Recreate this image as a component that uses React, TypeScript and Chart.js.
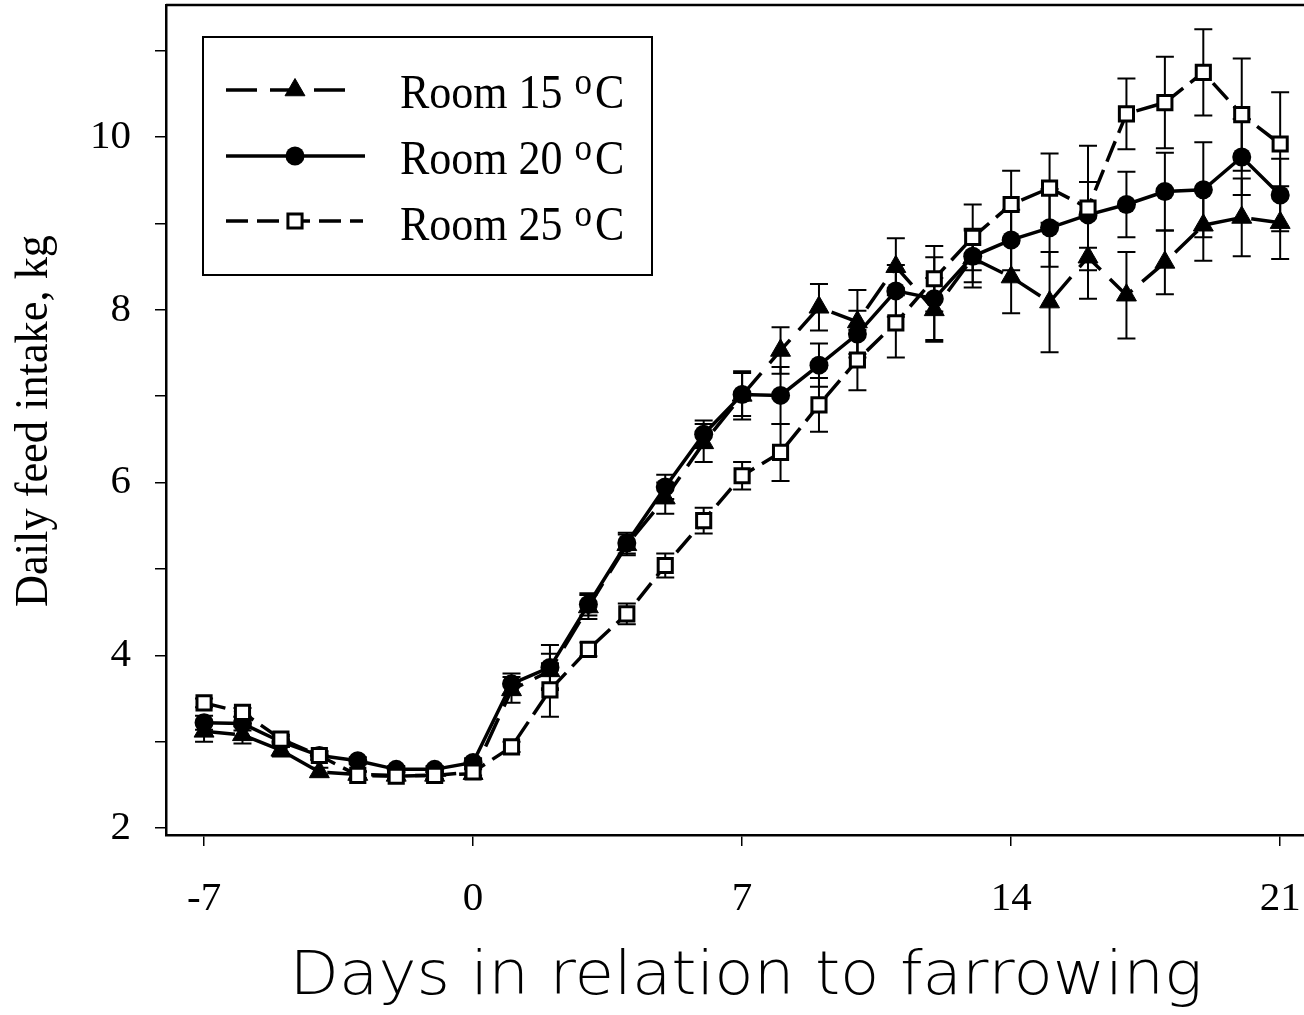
import React, { useEffect, useRef } from 'react';
import { Chart, registerables } from 'chart.js';

Chart.register(...registerables);

const days = [-7, -6, -5, -4, -3, -2, -1, 0, 1, 2, 3, 4, 5, 6, 7, 8, 9, 10, 11, 12, 13, 14, 15, 16, 17, 18, 19, 20, 21];

const room15Mean = [3.12, 3.08, 2.90, 2.65, 2.62, 2.61, 2.61, 2.63, 3.60, 3.82, 4.56, 5.28, 5.82, 6.46, 7.01, 7.53, 8.03, 7.86, 8.50, 8.00, 8.60, 8.38, 8.09, 8.61, 8.17, 8.55, 8.98, 9.07, 9.01];
const room15SE = [0.12, 0.10, 0.07, 0.05, 0.04, 0.04, 0.04, 0.05, 0.15, 0.20, 0.14, 0.12, 0.18, 0.22, 0.28, 0.27, 0.27, 0.37, 0.33, 0.37, 0.34, 0.42, 0.58, 0.48, 0.50, 0.37, 0.41, 0.45, 0.42];

const room20Mean = [3.22, 3.21, 3.00, 2.84, 2.78, 2.68, 2.68, 2.76, 3.67, 3.86, 4.59, 5.30, 5.95, 6.56, 7.02, 7.01, 7.36, 7.72, 8.22, 8.13, 8.62, 8.81, 8.95, 9.10, 9.22, 9.37, 9.39, 9.77, 9.33];
const room20SE = [0.08, 0.08, 0.06, 0.05, 0.04, 0.04, 0.04, 0.05, 0.12, 0.26, 0.13, 0.12, 0.14, 0.16, 0.25, 0.33, 0.25, 0.27, 0.30, 0.48, 0.30, 0.35, 0.45, 0.38, 0.38, 0.45, 0.55, 0.44, 0.42];

const room25Mean = [3.45, 3.34, 3.03, 2.84, 2.61, 2.60, 2.61, 2.65, 2.94, 3.60, 4.07, 4.48, 5.04, 5.56, 6.08, 6.35, 6.90, 7.42, 7.85, 8.36, 8.84, 9.22, 9.41, 9.18, 10.27, 10.40, 10.75, 10.26, 9.92];
const room25SE = [0.05, 0.05, 0.05, 0.05, 0.04, 0.04, 0.04, 0.04, 0.06, 0.31, 0.08, 0.12, 0.14, 0.15, 0.16, 0.33, 0.31, 0.35, 0.40, 0.38, 0.38, 0.39, 0.40, 0.72, 0.41, 0.53, 0.50, 0.65, 0.60];

const seriesLabels = ['Room 15', 'Room 20', 'Room 25'];
const xTickValues = [-7, 0, 7, 14, 21];
const yTickValues = [2, 3, 4, 5, 6, 7, 8, 9, 10, 11];
const xTitle = 'Days in relation to farrowing';
const yTitle = 'Daily feed intake, kg';

const SERIF = '"Liberation Serif", "Times New Roman", serif';

const dash15 = [31, 13];
const dash25 = [22, 9];

function drawMarker(ctx: CanvasRenderingContext2D, style: string, x: number, y: number) {
  ctx.save();
  ctx.setLineDash([]);
  ctx.strokeStyle = '#000';
  if (style === 'triangle') {
    const r = 11.5;
    ctx.beginPath();
    ctx.moveTo(x, y - r);
    ctx.lineTo(x + r * Math.sin((2 * Math.PI) / 3), y + r / 2);
    ctx.lineTo(x - r * Math.sin((2 * Math.PI) / 3), y + r / 2);
    ctx.closePath();
    ctx.fillStyle = '#000';
    ctx.fill();
    ctx.lineWidth = 1;
    ctx.stroke();
  } else if (style === 'circle') {
    ctx.beginPath();
    ctx.arc(x, y, 9.5, 0, Math.PI * 2);
    ctx.fillStyle = '#000';
    ctx.fill();
  } else {
    const s = 10 * Math.SQRT1_2;
    ctx.beginPath();
    ctx.rect(x - s, y - s, 2 * s, 2 * s);
    ctx.fillStyle = '#fff';
    ctx.fill();
    ctx.lineWidth = 3;
    ctx.stroke();
  }
  ctx.restore();
}

const errorBarPlugin = {
  id: 'errorBars',
  beforeDatasetsDraw(chart: any) {
    const ctx: CanvasRenderingContext2D = chart.ctx;
    const yScale = chart.scales.y;
    ctx.save();
    ctx.strokeStyle = '#000';
    ctx.lineWidth = 2;
    ctx.setLineDash([]);
    chart.data.datasets.forEach((ds: any, i: number) => {
      const meta = chart.getDatasetMeta(i);
      meta.data.forEach((pt: any, j: number) => {
        const v = ds.data[j].y;
        const se = ds.se[j];
        const x = pt.x;
        const yTop = yScale.getPixelForValue(v + se);
        const yBot = yScale.getPixelForValue(v - se);
        ctx.beginPath();
        ctx.moveTo(x, yTop);
        ctx.lineTo(x, yBot);
        ctx.moveTo(x - 9, yTop);
        ctx.lineTo(x + 9, yTop);
        ctx.moveTo(x - 9, yBot);
        ctx.lineTo(x + 9, yBot);
        ctx.stroke();
      });
    });
    ctx.restore();
  },
};

const framePlugin = {
  id: 'frameAndText',
  afterDraw(chart: any) {
    const ctx: CanvasRenderingContext2D = chart.ctx;
    const area = chart.chartArea;
    ctx.save();
    // top border
    ctx.strokeStyle = '#000';
    ctx.lineWidth = 2.5;
    ctx.beginPath();
    ctx.moveTo(area.left, area.top);
    ctx.lineTo(area.right, area.top);
    ctx.stroke();

    // legend box
    ctx.lineWidth = 2;
    ctx.strokeRect(203, 37, 449, 238);
    const rows = [90, 156, 221];
    const styles = ['triangle', 'circle', 'rect'];
    const dashes = [dash15, [], dash25];
    const ends = [352, 365, 363];
    const baselines = [108, 174, 240];
    rows.forEach((ry, i) => {
      ctx.save();
      ctx.lineWidth = 3.5;
      ctx.setLineDash(dashes[i]);
      ctx.beginPath();
      ctx.moveTo(226, ry);
      ctx.lineTo(ends[i], ry);
      ctx.stroke();
      ctx.restore();
      drawMarker(ctx, styles[i], 295, ry);
      ctx.fillStyle = '#000';
      ctx.textAlign = 'left';
      ctx.textBaseline = 'alphabetic';
      ctx.save();
      ctx.translate(400, baselines[i]);
      ctx.scale(1, 1.1);
      ctx.font = `44px ${SERIF}`;
      const main = seriesLabels[i] + ' ';
      ctx.fillText(main, 0, 0);
      let x = ctx.measureText(main).width + 1;
      ctx.font = `35px ${SERIF}`;
      ctx.fillText('o', x, -13);
      x += ctx.measureText('o').width + 3;
      ctx.font = `44px ${SERIF}`;
      ctx.fillText('C', x, 0);
      ctx.restore();
    });

    // x title
    ctx.fillStyle = '#000';
    ctx.textAlign = 'center';
    ctx.textBaseline = 'alphabetic';
    ctx.font = '200 60px "DejaVu Sans", sans-serif';
    const wx = ctx.measureText(xTitle).width;
    ctx.save();
    ctx.translate(746, 994);
    ctx.scale(913 / wx, 1);
    ctx.fillText(xTitle, 0, 0);
    ctx.restore();

    // y title
    ctx.font = `46px ${SERIF}`;
    const wy = ctx.measureText(yTitle).width;
    ctx.save();
    ctx.translate(47, 421);
    ctx.rotate(-Math.PI / 2);
    ctx.scale(372 / wy, 1);
    ctx.fillText(yTitle, 0, 0);
    ctx.restore();

    ctx.restore();
  },
};

export default function App() {
  const ref = useRef<HTMLCanvasElement>(null);

  useEffect(() => {
    const canvas = ref.current;
    if (!canvas) return;
    const toPoints = (means: number[]) => days.map((d, i) => ({ x: d, y: means[i] }));
    const chart = new Chart(canvas, {
      type: 'line',
      data: {
        datasets: [
          {
            label: seriesLabels[0],
            data: toPoints(room15Mean),
            se: room15SE,
            borderColor: '#000',
            backgroundColor: '#000',
            borderWidth: 3.5,
            borderDash: dash15,
            pointStyle: 'triangle',
            pointRadius: 11.5,
            pointBackgroundColor: '#000',
            pointBorderColor: '#000',
            pointBorderWidth: 1,
            order: 3,
            tension: 0,
          } as any,
          {
            label: seriesLabels[1],
            data: toPoints(room20Mean),
            se: room20SE,
            borderColor: '#000',
            backgroundColor: '#000',
            borderWidth: 3.5,
            pointStyle: 'circle',
            pointRadius: 9.5,
            pointBackgroundColor: '#000',
            pointBorderColor: '#000',
            pointBorderWidth: 0,
            order: 2,
            tension: 0,
          } as any,
          {
            label: seriesLabels[2],
            data: toPoints(room25Mean),
            se: room25SE,
            borderColor: '#000',
            backgroundColor: '#fff',
            borderWidth: 3.5,
            borderDash: dash25,
            pointStyle: 'rect',
            pointRadius: 10,
            pointBackgroundColor: '#fff',
            pointBorderColor: '#000',
            pointBorderWidth: 3,
            order: 1,
            tension: 0,
          } as any,
        ],
      },
      options: {
        responsive: false,
        animation: false,
        events: [],
        layout: { autoPadding: false, padding: { top: 5, left: 0, right: 0, bottom: 0 } },
        plugins: { legend: { display: false }, tooltip: { enabled: false } },
        scales: {
          x: {
            type: 'linear',
            min: -7.99,
            max: 21.62,
            afterBuildTicks: (s: any) => {
              s.ticks = xTickValues.map((v) => ({ value: v }));
            },
            afterFit: (s: any) => {
              s.height = 180;
              s.paddingLeft = 0;
              s.paddingRight = 0;
            },
            ticks: {
              autoSkip: false,
              maxRotation: 0,
              padding: 29,
              color: '#000',
              font: { family: SERIF, size: 41 },
              callback: (v: any) => String(v),
            },
            grid: { drawOnChartArea: false, drawTicks: true, tickLength: 11, color: '#000', lineWidth: 1.5 },
            border: { display: true, color: '#000', width: 2.5 },
          },
          y: {
            type: 'linear',
            min: 1.92,
            max: 11.53,
            afterBuildTicks: (s: any) => {
              s.ticks = yTickValues.map((v) => ({ value: v }));
            },
            afterFit: (s: any) => {
              s.width = 166;
              s.paddingTop = 0;
              s.paddingBottom = 0;
            },
            ticks: {
              autoSkip: false,
              padding: 24,
              color: '#000',
              font: { family: SERIF, size: 41 },
              callback: (v: any) => (Number(v) % 2 === 0 ? String(v) : ''),
            },
            grid: { drawOnChartArea: false, drawTicks: true, tickLength: 11, color: '#000', lineWidth: 1.5 },
            border: { display: true, color: '#000', width: 2.5 },
          },
        },
      } as any,
      plugins: [errorBarPlugin, framePlugin],
    });
    return () => chart.destroy();
  }, []);

  return (
    <canvas
      ref={ref}
      width={1304}
      height={1015}
      style={{ position: 'fixed', left: 0, top: 0, display: 'block', background: '#fff' }}
    />
  );
}
